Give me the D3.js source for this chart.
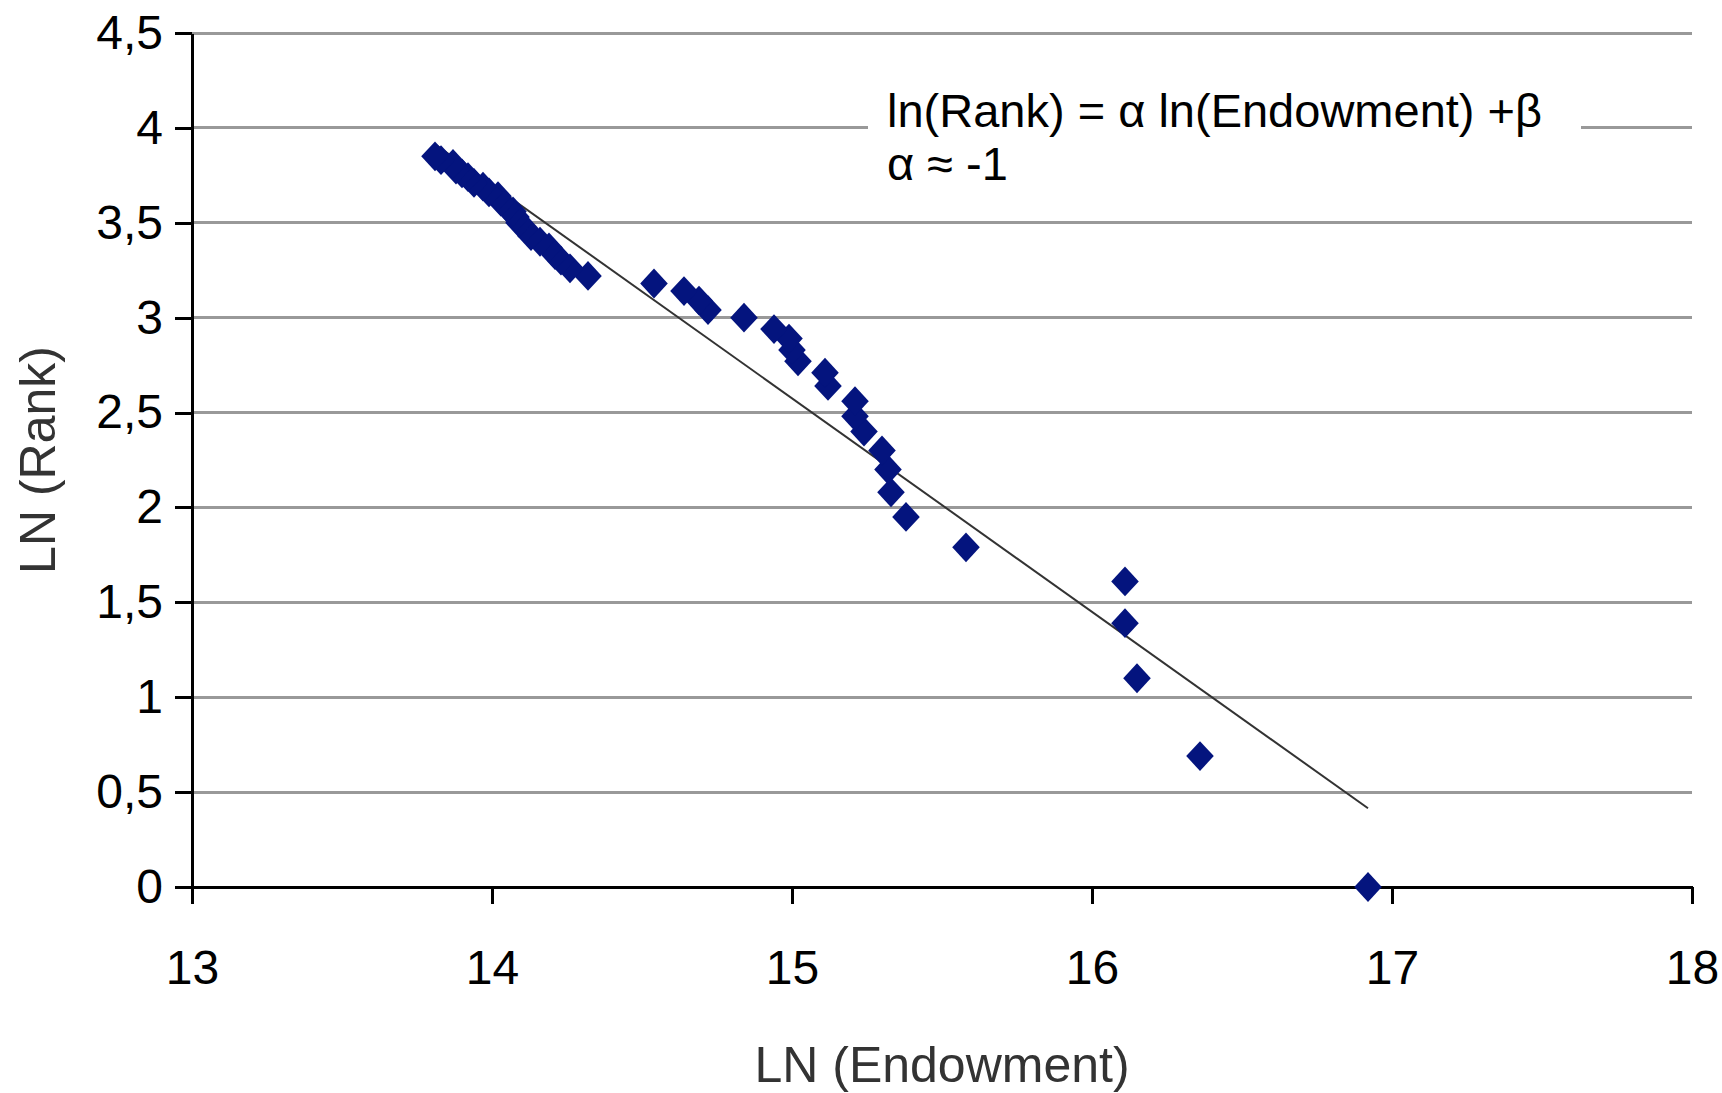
<!DOCTYPE html>
<html>
<head>
<meta charset="utf-8">
<script src="https://cdn.jsdelivr.net/npm/d3@7"></script>
<style>
  body{margin:0;background:#fff;}
  svg{display:block;font-family:"Liberation Sans",Arial,sans-serif;}
</style>
</head>
<body>
<div class="bod"></div>
<script>
//data: ln(Endowment) and ln(Rank), rank 1..47
var lnEndowment = [16.92,16.36,16.15,16.11,16.11,15.58,15.38,15.33,15.32,15.30,
  15.24,15.21,15.21,15.12,15.11,15.02,15.00,14.99,14.94,14.84,
  14.72,14.69,14.64,14.54,14.32,14.26,14.23,14.21,14.19,14.16,
  14.13,14.11,14.09,14.08,14.07,14.05,14.03,14.02,13.99,13.97,
  13.94,13.92,13.90,13.88,13.87,13.83,13.81]
var lnRank = [0,0.69,1.10,1.39,1.61,1.79,1.95,2.08,2.20,2.30,
  2.40,2.48,2.56,2.64,2.71,2.77,2.83,2.89,2.94,3.00,
  3.04,3.09,3.14,3.18,3.22,3.26,3.30,3.33,3.37,3.40,
  3.43,3.47,3.50,3.53,3.56,3.58,3.61,3.64,3.66,3.69,
  3.71,3.74,3.76,3.78,3.81,3.83,3.85]
//linear trend line as drawn
var trendSlope = -1.125
var trendIntercept = 19.45
var xTicks = [13,14,15,16,17,18]
var yTicks = [0,0.5,1,1.5,2,2.5,3,3.5,4,4.5]
var noteLines = ['ln(Rank) = \u03b1 ln(Endowment) +\u03b2','\u03b1 \u2248 -1']

var size = {width:1722,height:1093,margin:{left:192,right:30,top:33,bottom:206}}
let points = lnEndowment.map((v,i)=>({x:v,y:lnRank[i]}))

const svg = d3.select('.bod')
  .append('svg')
  .attr('width',size.width)
  .attr('height',size.height)

let x = d3.scaleLinear().domain([13,18]).range([size.margin.left,size.width-size.margin.right])
let y = d3.scaleLinear().domain([0,4.5]).range([size.height-size.margin.bottom,size.margin.top])

//gridlines
svg.append('g')
  .selectAll('line')
  .data(yTicks.filter(d=>d>0))
  .enter()
  .append('line')
  .attr('x1',x(13)).attr('x2',x(18))
  .attr('y1',d=>y(d)).attr('y2',d=>y(d))
  .attr('stroke','#999')
  .attr('stroke-width',3)
  .attr('shape-rendering','crispEdges')

//axes
let comma = d3.formatLocale({decimal:',',thousands:'.',grouping:[3],currency:['','']}).format('~g')
let yAxis = svg.append('g')
  .attr('transform',`translate(${size.margin.left},0)`)
  .call(d3.axisLeft(y).tickValues(yTicks).tickFormat(comma).tickSize(17).tickSizeOuter(0).tickPadding(12))
let xAxis = svg.append('g')
  .attr('transform',`translate(0,${y(0)})`)
  .call(d3.axisBottom(x).tickValues(xTicks).tickFormat(d3.format('d')).tickSize(17).tickSizeOuter(0).tickPadding(46))
;[xAxis,yAxis].forEach(a=>{
  a.selectAll('path,line').attr('stroke','#000').attr('stroke-width',3).attr('shape-rendering','crispEdges')
  a.selectAll('text').attr('fill','#000').style('font-size','48px').style('font-family','"Liberation Sans",Arial,sans-serif')
})

//trend line under the markers
let xr = d3.extent(lnEndowment)
svg.append('path')
  .datum(xr.map(v=>({x:v,y:trendSlope*v+trendIntercept})))
  .attr('d',d3.line().x(d=>x(d.x)).y(d=>y(d.y)))
  .attr('fill','none')
  .attr('stroke','#333')
  .attr('stroke-width',2)

//diamond markers
let diamond = {draw(ctx,s){
  let r = Math.sqrt(s)/2
  ctx.moveTo(0,-r*1.08); ctx.lineTo(r,0); ctx.lineTo(0,r*1.08); ctx.lineTo(-r,0); ctx.closePath()
}}
svg.append('g')
  .selectAll('path')
  .data(points)
  .enter()
  .append('path')
  .attr('transform',d=>`translate(${x(d.x)},${y(d.y)})`)
  .attr('d',d3.symbol().type(diamond).size(760))
  .attr('fill','#04147e')

//equation note on a white box
let note = svg.append('g')
note.append('rect')
  .attr('x',868).attr('y',68)
  .attr('width',713).attr('height',125)
  .attr('fill','#fff')
note.selectAll('text')
  .data(noteLines)
  .enter()
  .append('text')
  .attr('x',887)
  .attr('y',(d,i)=>127+i*53)
  .style('font-size','47px')
  .attr('fill','#000')
  .text(d=>d)

//axis titles
svg.append('text')
  .attr('x',(x(13)+x(18))/2)
  .attr('y',1082)
  .attr('text-anchor','middle')
  .style('font-size','50px')
  .attr('fill','#333')
  .text('LN (Endowment)')
svg.append('text')
  .attr('transform',`translate(55,${(y(0)+y(4.5))/2}) rotate(-90)`)
  .attr('text-anchor','middle')
  .style('font-size','50px')
  .attr('fill','#333')
  .text('LN (Rank)')
</script>
</body>
</html>
